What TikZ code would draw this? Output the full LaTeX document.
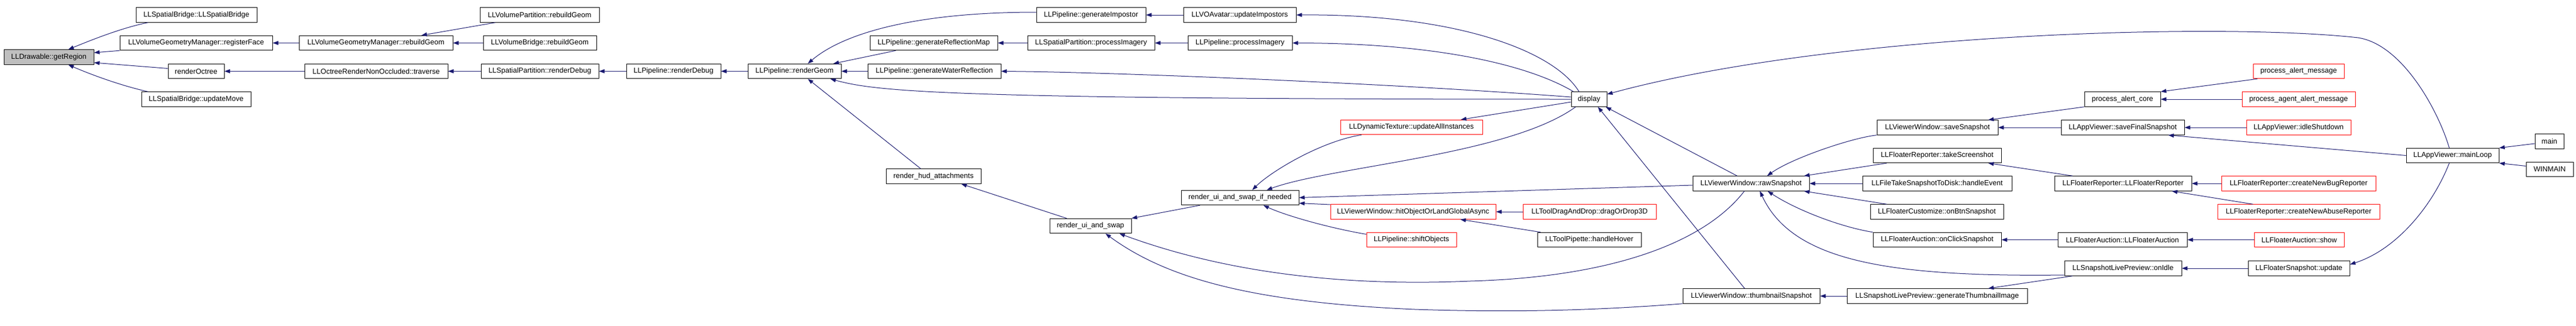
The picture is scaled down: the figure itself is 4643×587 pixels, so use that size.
\documentclass[tikz,border=0pt]{standalone}
\usepackage{fontspec}
\setmainfont{Liberation Sans}
\usetikzlibrary{arrows.meta}
\definecolor{midnight}{HTML}{191970}

\begin{document}
\begin{tikzpicture}[x=1pt, y=-1pt,
	fn/.style={draw, line width=1pt, minimum height=26.5pt, inner xsep=2pt, inner ysep=0pt, font=\fontsize{13}{15}\selectfont},
	root/.style={fn, fill=black!25},
	redfn/.style={fn, draw=red},
	call/.style={draw=midnight, line width=1pt, -{Triangle[length=10pt,width=7pt]}}]
			\path[fill=white] (0,0) rectangle (4643,587);
			\node[root, minimum width=162pt] (getRegion) at (88,103) {LLDrawable::getRegion};
			\node[fn, minimum width=218pt] (ssbCtor) at (354,27) {LLSpatialBridge::LLSpatialBridge};
			\node[fn, minimum width=275pt] (registerFace) at (353.5,77.5) {LLVolumeGeometryManager::registerFace};
			\node[fn, minimum width=101pt] (renderOctree) at (353.5,128.5) {renderOctree};
			\node[fn, minimum width=197pt] (updateMove) at (353.5,179) {LLSpatialBridge::updateMove};
			\node[fn, minimum width=277pt] (vgmRebuild) at (677.5,77.5) {LLVolumeGeometryManager::rebuildGeom};
			\node[fn, minimum width=258pt] (traverse) at (678,128.5) {LLOctreeRenderNonOccluded::traverse};
			\node[fn, minimum width=215pt] (vpRebuild) at (972.5,27) {LLVolumePartition::rebuildGeom};
			\node[fn, minimum width=204pt] (vbRebuild) at (973,77.5) {LLVolumeBridge::rebuildGeom};
			\node[fn, minimum width=212pt] (spRenderDebug) at (973,128.5) {LLSpatialPartition::renderDebug};
			\node[fn, minimum width=170pt] (plRenderDebug) at (1214,128.5) {LLPipeline::renderDebug};
			\node[fn, minimum width=168pt] (renderGeom) at (1432,128.5) {LLPipeline::renderGeom};
			\node[fn, minimum width=197pt] (genImpostor) at (1966.5,27) {LLPipeline::generateImpostor};
			\node[fn, minimum width=230pt] (genReflMap) at (1683,77.5) {LLPipeline::generateReflectionMap};
			\node[fn, minimum width=240pt] (genWaterRefl) at (1684,128.5) {LLPipeline::generateWaterReflection};
			\node[fn, minimum width=171pt] (hudAttach) at (1682.5,318) {render\_hud\_attachments};
			\node[fn, minimum width=229pt] (spProcImagery) at (1966.5,77.5) {LLSpatialPartition::processImagery};
			\node[fn, minimum width=203pt] (updImpostors) at (2234.5,27) {LLVOAvatar::updateImpostors};
			\node[fn, minimum width=188pt] (plProcImagery) at (2235,77.5) {LLPipeline::processImagery};
			\node[fn, minimum width=147pt] (uiSwap) at (1965.5,407.5) {render\_ui\_and\_swap};
			\node[fn, minimum width=212pt] (uiSwapIf) at (2235,356.5) {render\_ui\_and\_swap\_if\_needed};
			\node[redfn, minimum width=256pt] (dynTex) at (2544,229.5) {LLDynamicTexture::updateAllInstances};
			\node[fn, minimum width=64pt] (display) at (2864,179) {display};
			\node[redfn, minimum width=298pt] (hitObject) at (2547,382) {LLViewerWindow::hitObjectOrLandGlobalAsync};
			\node[redfn, minimum width=162pt] (shiftObjects) at (2544,432.5) {LLPipeline::shiftObjects};
			\node[redfn, minimum width=240pt] (dragDrop) at (2865,382) {LLToolDragAndDrop::dragOrDrop3D};
			\node[fn, minimum width=187pt] (handleHover) at (2864.5,432.5) {LLToolPipette::handleHover};
			\node[fn, minimum width=210pt] (rawSnapshot) at (3156,331) {LLViewerWindow::rawSnapshot};
			\node[fn, minimum width=247pt] (thumbSnapshot) at (3156.5,534) {LLViewerWindow::thumbnailSnapshot};
			\node[fn, minimum width=218pt] (saveSnapshot) at (3492,230) {LLViewerWindow::saveSnapshot};
			\node[fn, minimum width=231pt] (takeScreenshot) at (3491.5,280.5) {LLFloaterReporter::takeScreenshot};
			\node[fn, minimum width=269pt] (handleEvent) at (3491.5,331) {LLFileTakeSnapshotToDisk::handleEvent};
			\node[fn, minimum width=240pt] (onBtnSnapshot) at (3491,382) {LLFloaterCustomize::onBtnSnapshot};
			\node[fn, minimum width=231pt] (onClickSnapshot) at (3491.5,432.5) {LLFloaterAuction::onClickSnapshot};
			\node[fn, minimum width=325pt] (genThumb) at (3491.5,534) {LLSnapshotLivePreview::generateThumbnailImage};
			\node[fn, minimum width=137pt] (alertCore) at (3825.5,179) {process\_alert\_core};
			\node[fn, minimum width=222pt] (saveFinal) at (3826,230) {LLAppViewer::saveFinalSnapshot};
			\node[fn, minimum width=247pt] (reporterCtor) at (3826.5,331) {LLFloaterReporter::LLFloaterReporter};
			\node[fn, minimum width=233pt] (auctionCtor) at (3825.5,432.5) {LLFloaterAuction::LLFloaterAuction};
			\node[fn, minimum width=211pt] (onIdle) at (3826.5,484) {LLSnapshotLivePreview::onIdle};
			\node[redfn, minimum width=164pt] (alertMsg) at (4143,128.5) {process\_alert\_message};
			\node[redfn, minimum width=204pt] (agentAlertMsg) at (4143,179) {process\_agent\_alert\_message};
			\node[redfn, minimum width=188pt] (idleShutdown) at (4143,230) {LLAppViewer::idleShutdown};
			\node[redfn, minimum width=278pt] (bugReporter) at (4143,331) {LLFloaterReporter::createNewBugReporter};
			\node[redfn, minimum width=292pt] (abuseReporter) at (4143,382) {LLFloaterReporter::createNewAbuseReporter};
			\node[redfn, minimum width=162pt] (auctionShow) at (4144,432.5) {LLFloaterAuction::show};
			\node[fn, minimum width=183pt] (snapUpdate) at (4143.5,484) {LLFloaterSnapshot::update};
			\node[fn, minimum width=167pt] (mainLoop) at (4420.5,280.5) {LLAppViewer::mainLoop};
			\node[fn, minimum width=52pt] (main) at (4595,255) {main};
			\node[fn, minimum width=85pt] (winmain) at (4595.5,305.5) {WINMAIN};
			\draw[call] ([xshift=22pt]ssbCtor.south west) .. controls (220,50) and (165,72) .. ([xshift=35pt]getRegion.north);
			\draw[call] (registerFace.south west) -- ([yshift=8pt]getRegion.east);
			\draw[call] ([yshift=5pt]renderOctree.west) -- ([yshift=-10pt]getRegion.east);
			\draw[call] ([xshift=12pt]updateMove.north west) .. controls (220,155) and (165,135) .. ([xshift=35pt]getRegion.south);
			\draw[call] (vgmRebuild.west) -- (registerFace.east);
			\draw[call] (traverse.west) -- (renderOctree.east);
			\draw[call] ([xshift=28pt]vpRebuild.south west) -- ([xshift=82pt]vgmRebuild.north);
			\draw[call] (vbRebuild.west) -- (vgmRebuild.east);
			\draw[call] (spRenderDebug.west) -- (traverse.east);
			\draw[call] (plRenderDebug.west) -- (spRenderDebug.east);
			\draw[call] (renderGeom.west) -- (plRenderDebug.east);
			\draw[call] ([yshift=5pt]genImpostor.west) .. controls (1650,22) and (1520,60) .. ([xshift=24pt]renderGeom.north);
			\draw[call] ([xshift=47pt]genReflMap.south west) -- ([xshift=70pt]renderGeom.north);
			\draw[call] (genWaterRefl.west) -- (renderGeom.east);
			\draw[call] (display.west) .. controls (1700,179) and (1580,165) .. ([xshift=-20pt]renderGeom.south east);
			\draw[call] ([xshift=-23pt]hudAttach.north) -- ([xshift=24pt]renderGeom.south);
			\draw[call] (spProcImagery.west) -- (genReflMap.east);
			\draw[call] (updImpostors.west) -- (genImpostor.east);
			\draw[call] (plProcImagery.west) -- (spProcImagery.east);
			\draw[call] ([xshift=-18pt]display.north) .. controls (2800,90) and (2620,25) .. (updImpostors.east);
			\draw[call] ([xshift=-28pt]display.north) .. controls (2760,120) and (2600,78) .. (plProcImagery.east);
			\draw[call] ([yshift=4pt]display.west) .. controls (2500,150) and (2000,130) .. (genWaterRefl.east);
			\draw[call] ([yshift=-5pt]display.west) -- ([xshift=89pt]dynTex.north);
			\draw[call] ([xshift=-24pt]display.south) .. controls (2720,280) and (2400,300) .. ([xshift=48pt]uiSwapIf.north);
			\draw[call] ([xshift=-90pt]dynTex.south) .. controls (2380,255) and (2290,310) .. ([xshift=22pt]uiSwapIf.north);
			\draw[call] ([xshift=-72pt]uiSwapIf.south) -- (uiSwap.north east);
			\draw[call] ([xshift=-43pt]uiSwap.north) -- ([xshift=50pt]hudAttach.south);
			\draw[call] ([xshift=-25pt]rawSnapshot.north) -- ([xshift=30pt]display.south);
			\draw[call] ([yshift=-3pt]rawSnapshot.west) -- (uiSwapIf.east);
			\draw[call] ([yshift=13pt]hitObject.west) -- ([yshift=-10pt]uiSwapIf.east);
			\draw[call] ([yshift=10pt]shiftObjects.west) .. controls (2400,412) and (2320,390) .. ([xshift=42pt]uiSwapIf.south);
			\draw[call] (dragDrop.west) -- (hitObject.east);
			\draw[call] ([xshift=6pt]handleHover.north west) -- ([xshift=85pt]hitObject.south);
			\draw[call] ([xshift=-12pt]rawSnapshot.south) .. controls (3070,440) and (2900,500) .. (2650,507) .. controls (2350,520) and (2150,470) .. ([xshift=52pt]uiSwap.south);
			\draw[call] (thumbSnapshot.south west) .. controls (2850,562) and (2700,563) .. (2550,558) .. controls (2250,545) and (2100,500) .. ([xshift=27pt]uiSwap.south);
			\draw[call] ([xshift=-12pt]thumbSnapshot.north) -- ([xshift=16pt]display.south);
			\draw[call] (saveSnapshot.south west) .. controls (3340,248) and (3230,285) .. ([xshift=29pt]rawSnapshot.north);
			\draw[call] ([xshift=25pt]takeScreenshot.south west) -- ([xshift=-10pt]rawSnapshot.north east);
			\draw[call] (handleEvent.west) -- (rawSnapshot.east);
			\draw[call] ([xshift=30pt]onBtnSnapshot.north west) -- ([xshift=-10pt]rawSnapshot.south east);
			\draw[call] (onClickSnapshot.north west) .. controls (3320,410) and (3240,380) .. ([xshift=30pt]rawSnapshot.south);
			\draw[call] ([yshift=-12pt]onIdle.west) .. controls (3400,500) and (3230,470) .. ([xshift=16pt]rawSnapshot.south);
			\draw[call] (genThumb.west) -- (thumbSnapshot.east);
			\draw[call] (alertCore.south west) -- ([xshift=-18pt]saveSnapshot.north east);
			\draw[call] (saveFinal.west) -- (saveSnapshot.east);
			\draw[call] ([xshift=33pt]reporterCtor.north west) -- ([xshift=-24pt]takeScreenshot.south east);
			\draw[call] (auctionCtor.west) -- (onClickSnapshot.east);
			\draw[call] ([xshift=15pt]onIdle.south west) -- ([xshift=-71pt]genThumb.north east);
			\draw[call] ([xshift=8pt]alertMsg.south west) -- (alertCore.north east);
			\draw[call] (agentAlertMsg.west) -- (alertCore.east);
			\draw[call] (idleShutdown.west) -- (saveFinal.east);
			\draw[call] (mainLoop.west) -- ([xshift=82pt]saveFinal.south);
			\draw[call] (bugReporter.west) -- (reporterCtor.east);
			\draw[call] ([xshift=64pt]abuseReporter.north west) -- ([xshift=88pt]reporterCtor.south);
			\draw[call] (auctionShow.west) -- (auctionCtor.east);
			\draw[call] (snapUpdate.west) -- (onIdle.east);
			\draw[call] ([xshift=-6pt]mainLoop.south) .. controls (4385,370) and (4320,450) .. ([yshift=7pt]snapUpdate.east);
			\draw[call] ([yshift=-4pt]main.west) -- (mainLoop.north east);
			\draw[call] ([yshift=6pt]winmain.west) -- (mainLoop.south east);
			\draw[call] ([xshift=-6pt]mainLoop.north) .. controls (4395,200) and (4330,80) .. (4250,68) .. controls (4000,40) and (3300,60) .. ([yshift=9pt]display.east);
		\end{tikzpicture}
\end{document}
